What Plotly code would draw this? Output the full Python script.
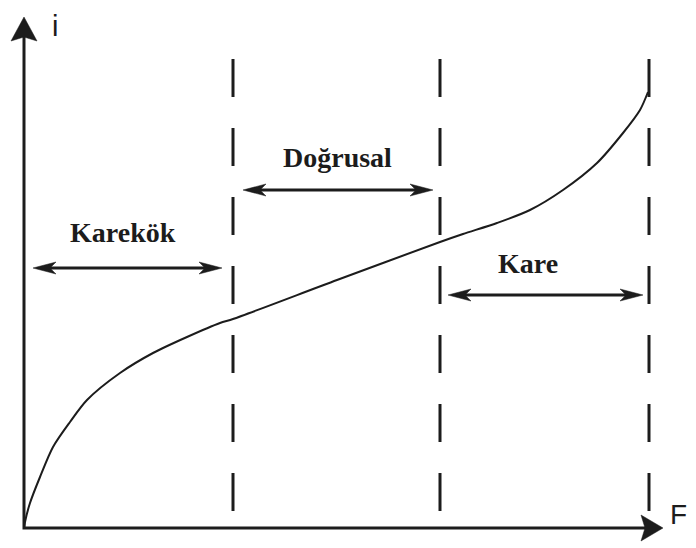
import plotly.graph_objects as go

# ---- data (F and i in arbitrary units) ----
F_curve = [0.0, 0.1, 0.6, 1.6, 2.9, 4.6, 6.3, 9.6, 12.9, 16.3, 19.6, 20.9,
           31.3, 41.6, 43.9, 47.3, 50.6, 53.9, 57.3, 59.9, 61.6, 62.4]
i_curve = [0.0, 0.6, 2.5, 5.1, 8.1, 10.6, 12.8, 15.5, 17.5, 19.1, 20.5, 20.9,
           24.8, 28.6, 29.4, 30.5, 31.8, 33.8, 36.5, 39.5, 41.8, 43.6]

boundaries_F = [20.9, 41.6, 62.5]
boundary_top, boundary_bottom = 46.9, 1.6

region_labels = ["Karekök", "Doğrusal", "Kare"]
label_F = [9.9, 31.3, 50.4]
label_i = [29.6, 37.1, 26.5]
span_start_F = [0.9, 21.9, 42.4]
span_end_F = [19.8, 40.9, 61.9]
span_i = [26.0, 33.8, 23.3]

axis_end_F = 63.9
axis_end_i = 51.1
axis_titles = ["F", "i"]

INK = "#1c1c1c"

fig = go.Figure()


def head(tx, ty, dx, dy, L, W, N):
    nx, ny = -dy, dx
    xs = [tx, tx - L * dx + W * nx, tx - (L - N) * dx, tx - L * dx - W * nx, tx]
    ys = [ty, ty - L * dy + W * ny, ty - (L - N) * dy, ty - L * dy - W * ny, ty]
    fig.add_trace(go.Scatter(x=xs, y=ys, mode="lines", fill="toself", fillcolor=INK,
                             line=dict(color=INK, width=0.5), hoverinfo="skip", showlegend=False))


# dashed boundaries
for b in boundaries_F:
    fig.add_trace(go.Scatter(x=[b, b], y=[boundary_top, boundary_bottom], mode="lines",
                             line=dict(color=INK, width=3, dash="38px,31px"),
                             hoverinfo="skip", showlegend=False))

# curve
fig.add_trace(go.Scatter(x=F_curve, y=i_curve, mode="lines",
                         line=dict(color=INK, width=2, shape="spline", smoothing=0.8),
                         hoverinfo="skip", showlegend=False))

# axes
fig.add_trace(go.Scatter(x=[0, 0, axis_end_F - 1.5], y=[axis_end_i - 1.5, 0, 0], mode="lines",
                         line=dict(color=INK, width=3), hoverinfo="skip", showlegend=False))
head(0, axis_end_i, 0, 1, 2.4, 1.3, 0.4)
head(axis_end_F, 0, 1, 0, 2.2, 1.3, 0.4)

# double arrows + labels
for lab, lx, ly, s0, s1, si in zip(region_labels, label_F, label_i, span_start_F, span_end_F, span_i):
    fig.add_trace(go.Scatter(x=[s0 + 1.5, s1 - 1.5], y=[si, si], mode="lines",
                             line=dict(color=INK, width=3), hoverinfo="skip", showlegend=False))
    head(s0, si, -1, 0, 2.3, 0.6, 0.6)
    head(s1, si, 1, 0, 2.3, 0.6, 0.6)
    fig.add_annotation(x=lx, y=ly, text=lab, showarrow=False,
                       font=dict(family="Liberation Serif, Times New Roman, serif", size=28,
                                 color=INK, weight="bold"))

fig.add_annotation(x=64.4, y=1.4, text=axis_titles[0], showarrow=False, xanchor="left",
                   font=dict(family="Liberation Sans, Arial, sans-serif", size=28, color=INK))
fig.add_annotation(x=3.1, y=52.0, text=axis_titles[1], showarrow=False, yanchor="top",
                   font=dict(family="Liberation Sans, Arial, sans-serif", size=29, color=INK))

# the page body adds an 8px offset, so ranges are shifted to compensate
fig.update_layout(width=696, height=548, margin=dict(l=0, r=0, t=0, b=0),
                  paper_bgcolor="white", plot_bgcolor="white",
                  xaxis=dict(range=[-1.6, 68.0], visible=False, fixedrange=True),
                  yaxis=dict(range=[-2.8, 52.0], visible=False, fixedrange=True))

fig.write_html("out.html")
